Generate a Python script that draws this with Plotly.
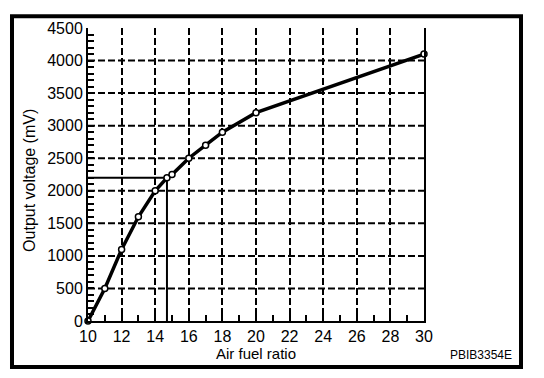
import plotly.graph_objects as go

# Data
afr = [10, 11, 12, 13, 14, 14.7, 15, 16, 17, 18, 20, 30]
output_mv = [0, 500, 1100, 1600, 2000, 2200, 2250, 2500, 2700, 2900, 3200, 4100]
stoich_afr = 14.7
stoich_mv = 2200

x_ticks = list(range(10, 31, 2))
y_ticks = list(range(0, 4501, 500))
x_title = "Air fuel ratio"
y_title = "Output voltage (mV)"
code_label = "PBIB3354E"

FONT = "Liberation Sans, Arial, sans-serif"

fig = go.Figure()

# reference lines at stoichiometric point
fig.add_trace(go.Scatter(x=[10, stoich_afr], y=[stoich_mv, stoich_mv], mode="lines",
                         line=dict(color="black", width=2), hoverinfo="skip", cliponaxis=False))
fig.add_trace(go.Scatter(x=[stoich_afr, stoich_afr], y=[0, stoich_mv], mode="lines",
                         line=dict(color="black", width=2), hoverinfo="skip", cliponaxis=False))

# main curve
fig.add_trace(go.Scatter(x=afr, y=output_mv, mode="lines+markers",
                         line=dict(color="black", width=3.5),
                         marker=dict(symbol="circle", size=6, color="white",
                                     line=dict(color="black", width=1.5)),
                         cliponaxis=False))

shapes = []
# horizontal dashed gridlines (not at the top/bottom edges)
for v in y_ticks[1:-1]:
    shapes.append(dict(type="line", xref="paper", yref="y", x0=0, x1=1, y0=v, y1=v,
                       line=dict(color="black", width=2, dash="7px,3px"), layer="below"))
# outer frame
shapes.append(dict(type="rect", xref="paper", yref="paper",
                   x0=-0.2262, x1=1.2887, y0=-0.1572, y1=1.0401,
                   line=dict(color="black", width=4), fillcolor="rgba(0,0,0,0)"))

fig.update_layout(
    width=544, height=378,
    margin=dict(l=80, r=128, t=14, b=65),
    paper_bgcolor="white", plot_bgcolor="white",
    showlegend=False,
    font=dict(family=FONT, color="black", size=15),
    shapes=shapes,
    annotations=[
        dict(text=y_title, xref="paper", yref="paper", x=-0.174, y=0.48,
             xanchor="center", yanchor="middle",
             textangle=-90, showarrow=False, font=dict(size=16, family=FONT, color="black")),
        dict(text=x_title, xref="paper", yref="paper", x=0.5, y=-0.11,
             xanchor="center", yanchor="middle",
             showarrow=False, font=dict(size=15, family=FONT, color="black")),
        dict(text=code_label, xref="paper", yref="paper", x=1.17, y=-0.116,
             xanchor="center", yanchor="middle",
             showarrow=False, font=dict(size=12, family=FONT, color="black")),
    ],
)

fig.update_xaxes(
    range=[10, 30], tickvals=x_ticks, ticktext=[str(t) for t in x_ticks],
    showline=True, linecolor="black", linewidth=2, mirror=False,
    ticks="inside", ticklen=6, tickwidth=2, tickcolor="black",
    minor=dict(dtick=1, tick0=10, ticks="inside", ticklen=6, tickwidth=2,
               tickcolor="black", showgrid=False),
    showgrid=True, gridcolor="black", gridwidth=2, griddash="7px,3px",
    zeroline=False, tickfont=dict(size=16, family=FONT, color="black"),
    fixedrange=True,
)
fig.update_yaxes(
    range=[0, 4500], tickvals=y_ticks, ticktext=[str(t) for t in y_ticks],
    showline=True, linecolor="black", linewidth=2, mirror=True,
    ticks="inside", ticklen=6, tickwidth=2, tickcolor="black",
    minor=dict(dtick=100, tick0=0, ticks="inside", ticklen=6, tickwidth=2,
               tickcolor="black", showgrid=False),
    showgrid=False, zeroline=False,
    tickfont=dict(size=16, family=FONT, color="black"),
    fixedrange=True,
)

fig.write_html("out.html")
